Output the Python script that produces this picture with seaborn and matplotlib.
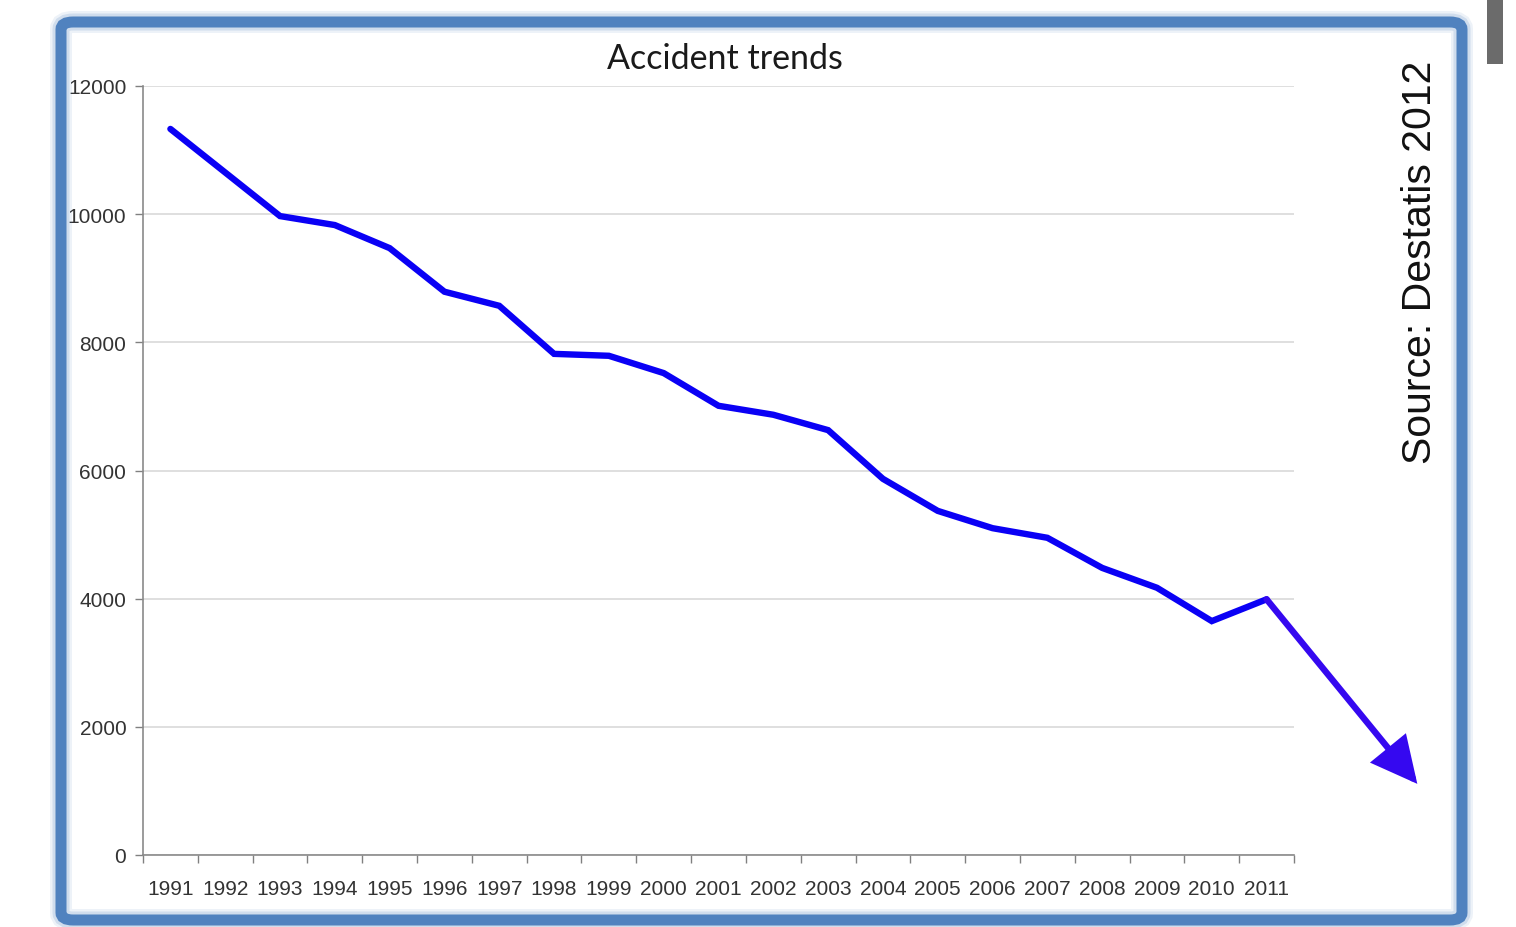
import numpy as np
import pandas as pd
import matplotlib
matplotlib.use("Agg")
import matplotlib.pyplot as plt
from matplotlib import font_manager
from matplotlib.patches import FancyBboxPatch, Rectangle
import seaborn as sns

years = list(range(1991, 2012))
accidents = [11330, 10650, 9970, 9830, 9470, 8790, 8570, 7820, 7790, 7520,
             7010, 6870, 6630, 5870, 5370, 5100, 4950, 4480, 4170, 3650, 3990]
yticks = [0, 2000, 4000, 6000, 8000, 10000, 12000]
trend_end = (2013.75, 1110)
title = "Accident trends"
source = "Source: Destatis 2012"

sns.set_style("white")
names = {f.name for f in font_manager.fontManager.ttflist}
tick_font = "Liberation Sans Narrow" if "Liberation Sans Narrow" in names else "Liberation Sans"
title_font = "Lato" if "Lato" in names else "DejaVu Sans"

W, H = 1516, 928
fig = plt.figure(figsize=(W / 100, H / 100), dpi=100)
fig.patch.set_facecolor("white")

def fx(px):
    return px / W
def fy(py):
    return 1 - py / H

# frame with soft shadow
for lw, a in [(22, 0.10), (17, 0.18)]:
    fig.patches.append(FancyBboxPatch((fx(61), fy(921)), fx(1462) - fx(61), fy(23) - fy(921),
                                      boxstyle="round,pad=0,rounding_size=0.008",
                                      transform=fig.transFigure, fill=False,
                                      edgecolor="#4f81bd", linewidth=lw * 0.72, alpha=a, zorder=0))
fig.patches.append(FancyBboxPatch((fx(61), fy(921)), fx(1462) - fx(61), fy(23) - fy(921),
                                  boxstyle="round,pad=0,rounding_size=0.008",
                                  transform=fig.transFigure, fill=False,
                                  edgecolor="#5082bf", linewidth=11 * 0.72, zorder=1))
# gray bar at the top right
fig.patches.append(Rectangle((fx(1487), fy(65)), fx(1503) - fx(1487), fy(0) - fy(65),
                             transform=fig.transFigure, facecolor="#6b6b6b", edgecolor="none"))

ax = fig.add_axes([fx(143), fy(856), fx(1294) - fx(143), fy(87) - fy(856)])
ax.set_facecolor("none")

df = pd.DataFrame({"year": years, "accidents": accidents})
sns.lineplot(data=df, x="year", y="accidents", ax=ax, color="#0a00f5", linewidth=4.6,
             solid_joinstyle="miter", zorder=3)

ax.annotate("", xy=trend_end, xytext=(years[-1], accidents[-1]),
            arrowprops=dict(arrowstyle="-|>,head_length=1.3,head_width=0.65",
                            mutation_scale=20, lw=4.6, color="#3508f0",
                            shrinkA=0, shrinkB=0, joinstyle="miter"),
            annotation_clip=False, zorder=4)

ax.set_xlim(years[0] - 0.5, years[-1] + 0.5)
ax.set_ylim(0, 12000)
ax.set_yticks(yticks)
ax.set_yticklabels([str(v) for v in yticks])
ax.set_xticks(years)
ax.set_xticklabels([str(y) for y in years])
ax.set_xticks(np.arange(years[0] - 0.5, years[-1] + 1, 1.0), minor=True)
ax.tick_params(axis="x", which="major", length=0, pad=17)
ax.tick_params(axis="x", which="minor", length=6, width=1, color="#808080", direction="out")
ax.tick_params(axis="y", which="major", length=6, width=1, color="#808080", direction="out", left=True, pad=6)
ax.tick_params(axis="x", bottom=True, which="minor")
for lab in ax.get_xticklabels() + ax.get_yticklabels():
    lab.set_family(tick_font)
    lab.set_fontsize(15)
    lab.set_color("#333333")

ax.yaxis.grid(True, color="#d9d9d9", linewidth=1.2)
ax.xaxis.grid(False)
ax.set_axisbelow(True)
for s in ["top", "right"]:
    ax.spines[s].set_visible(False)
for s in ["left", "bottom"]:
    ax.spines[s].set_color("#8a8a8a")
    ax.spines[s].set_linewidth(1.2)
ax.set_xlabel("")
ax.set_ylabel("")

fig.text(fx(725), fy(59), title, ha="center", va="center", fontsize=24.5,
         family=title_font, color="#1a1a1a")
fig.text(fx(1420), fy(262), source, ha="center", va="center", rotation=90,
         fontsize=29.5, family="Liberation Sans", color="#111111")

fig.savefig("out.png", dpi=100, facecolor="white")
